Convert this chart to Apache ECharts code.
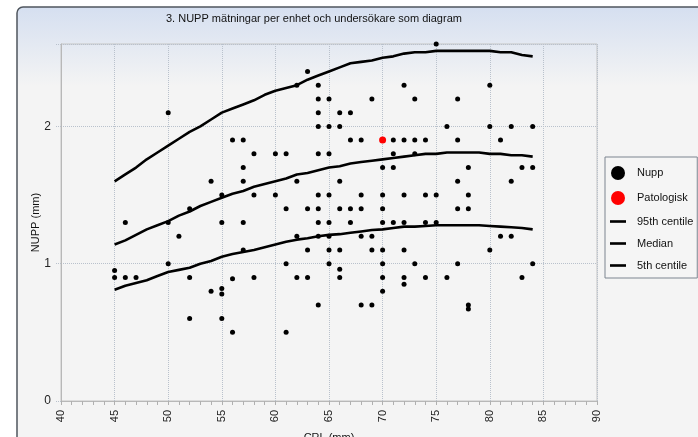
<!DOCTYPE html>
<html><head><meta charset="utf-8">
<script src="https://cdn.jsdelivr.net/npm/echarts@6/dist/echarts.min.js"></script>
<style>html,body{margin:0;padding:0;background:#fff}#c{width:698px;height:437px}</style>
</head><body><div id="c"></div>
<script>
// Measured points (CRL mm, NUPP mm)
const nuppX = [45,45,46,46,47,50,50,50,51,52,52,52,54,54,55,55,55,55,55,56,56,56,57,57,57,57,57,58,58,58,
  60,60,61,61,61,61,62,62,62,62,63,63,63,63,
  64,64,64,64,64,64,64,64,64,64,65,65,65,65,65,65,65,65,
  66,66,66,66,66,66,66,67,67,67,67,68,68,68,68,68,69,69,69,69,
  70,70,70,70,70,70,70,70,71,71,71,71,72,72,72,72,72,72,72,73,73,73,73,74,74,74,74,75,75,75,76,76,
  77,77,77,77,77,78,78,78,78,78,80,80,80,81,81,82,82,82,83,83,84,84,84];
const nuppY = [0.95,0.9,1.3,0.9,0.9,2.1,1.3,1.0,1.2,1.4,0.9,0.6,1.6,0.8,1.5,1.3,0.82,0.78,0.6,1.9,0.89,0.5,1.9,1.7,1.6,1.3,1.1,1.8,1.5,0.9,
  1.8,1.5,1.8,1.4,1.0,0.5,2.3,1.6,1.2,0.9,2.4,1.4,1.1,0.9,
  2.3,2.2,2.1,2.0,1.8,1.5,1.4,1.3,1.2,0.7,2.2,2.0,1.8,1.5,1.3,1.2,1.1,1.0,
  2.1,2.0,1.6,1.4,1.1,0.96,0.9,2.1,1.9,1.4,1.3,1.9,1.5,1.4,1.2,0.7,2.2,1.2,1.1,0.7,
  1.7,1.5,1.4,1.3,1.1,1.0,0.9,0.8,1.9,1.8,1.7,1.3,2.3,1.9,1.5,1.3,1.1,0.9,0.85,2.2,1.9,1.8,1.0,1.9,1.5,1.3,0.9,2.6,1.5,1.3,2.0,0.9,
  2.2,1.9,1.6,1.4,1.0,1.7,1.5,1.4,0.7,0.67,2.3,2.0,1.1,1.9,1.2,2.0,1.6,1.2,1.7,0.9,2.0,1.7,1.0];
const patX = [70];
const patY = [1.9];
// Reference centiles
const crl = [45,46,47,48,49,50,51,52,53,54,55,56,57,58,59,60,61,62,63,64,65,66,67,68,69,70,71,72,73,74,75,76,77,78,79,80,81,82,83,84];
const p95 = [1.60,1.65,1.70,1.76,1.81,1.86,1.91,1.96,2.00,2.05,2.10,2.13,2.16,2.19,2.23,2.26,2.28,2.30,2.34,2.37,2.40,2.43,2.46,2.47,2.48,2.50,2.51,2.53,2.54,2.54,2.55,2.55,2.55,2.55,2.55,2.55,2.54,2.54,2.52,2.51];
const p50 = [1.14,1.17,1.21,1.25,1.28,1.31,1.35,1.38,1.42,1.45,1.48,1.51,1.53,1.56,1.58,1.60,1.62,1.65,1.66,1.68,1.70,1.71,1.73,1.74,1.75,1.76,1.77,1.78,1.79,1.80,1.80,1.81,1.81,1.81,1.81,1.80,1.80,1.79,1.79,1.78];
const p5  = [0.81,0.84,0.86,0.88,0.91,0.94,0.955,0.97,1.00,1.02,1.05,1.07,1.085,1.10,1.12,1.14,1.16,1.175,1.185,1.20,1.21,1.215,1.225,1.235,1.245,1.25,1.26,1.27,1.27,1.275,1.28,1.28,1.28,1.28,1.28,1.275,1.27,1.265,1.26,1.25];
const xTicks = [40,45,50,55,60,65,70,75,80,85,90];
const yTicks = [0,1,2];

const font = 'Liberation Sans, Arial, sans-serif';
const pair = (xs, ys) => xs.map((x, i) => [x, ys[i]]);
const lineIcon = 'path://M0,0L14,0L14,2.3L0,2.3Z';
const chart = echarts.init(document.getElementById('c'), null, {renderer: 'canvas'});
chart.setOption({
  animation: false,
  backgroundColor: '#ffffff',
  graphic: [{
    type: 'rect', z: -10, silent: true,
    shape: {x: 17, y: 7, width: 720, height: 470, r: [6, 0, 0, 0]},
    style: {
      fill: new echarts.graphic.LinearGradient(0, 0, 0, 1, [
        {offset: 0, color: '#d5dff0'}, {offset: 0.17, color: '#f4f4f4'}, {offset: 1, color: '#f4f4f4'}]),
      stroke: '#4f565e', lineWidth: 1.5
    }
  }],
  title: {
    text: '3. NUPP mätningar per enhet och undersökare som diagram',
    left: 166, top: 13, padding: 0,
    textStyle: {fontFamily: font, fontSize: 11, fontWeight: 'normal', color: '#111'}
  },
  legend: {
    orient: 'vertical', left: 605, top: 157, padding: [9, 4, 7, 5],
    itemWidth: 16, itemHeight: 14, itemGap: 11, selectedMode: false,
    backgroundColor: '#f5f5f5', borderColor: '#7c8590', borderWidth: 1,
    textStyle: {fontFamily: font, fontSize: 11, color: '#111', padding: [0, 0, 0, 6]},
    data: [
      {name: 'Nupp', icon: 'circle', itemStyle: {opacity: 1}},
      {name: 'Patologisk', icon: 'circle', itemStyle: {opacity: 1}},
      {name: '95th centile', icon: lineIcon},
      {name: 'Median', icon: lineIcon},
      {name: '5th centile', icon: lineIcon}
    ]
  },
  grid: {left: 61, right: 101, top: 44, bottom: 36, outerBoundsMode: 'none', containLabel: false,
    show: true, borderColor: '#c4c4c4', borderWidth: 1, backgroundColor: 'transparent'},
  xAxis: {
    type: 'value', min: xTicks[0], max: xTicks[xTicks.length - 1], interval: 5,
    name: 'CRL (mm)', nameLocation: 'middle', nameGap: 31,
    nameTextStyle: {fontFamily: font, fontSize: 11, color: '#111'},
    axisLine: {lineStyle: {color: '#b8b8b8'}},
    axisTick: {show: true, length: 4, lineStyle: {color: '#b0b0b0'}},
    minorTick: {show: true, splitNumber: 5, length: 4, lineStyle: {color: '#b0b0b0'}},
    axisLabel: {rotate: 90, margin: 9, fontFamily: font, fontSize: 11, color: '#222',
      formatter: v => xTicks.includes(v) ? String(v) : ''},
    splitLine: {show: true, lineStyle: {type: 'dotted', color: '#b9c1cc'}}
  },
  yAxis: {
    type: 'value', min: 0, max: 2.6, interval: 1,
    name: 'NUPP (mm)', nameLocation: 'middle', nameGap: 20, nameMoveOverlap: false,
    nameTextStyle: {fontFamily: font, fontSize: 11, color: '#111'},
    axisLine: {show: true, lineStyle: {color: '#b8b8b8'}},
    axisTick: {show: true, length: 6, lineStyle: {type: 'dotted', color: '#b9c1cc'}},
    axisLabel: {margin: 10, fontFamily: font, fontSize: 12, color: '#222',
      formatter: v => yTicks.includes(v) ? String(v) : ''},
    splitLine: {show: true, lineStyle: {type: 'dotted', color: '#b9c1cc'}}
  },
  series: [
    {name: '95th centile', type: 'line', data: pair(crl, p95), showSymbol: false, z: 2,
      lineStyle: {color: '#000', width: 2.6}, itemStyle: {color: '#000'}},
    {name: 'Median', type: 'line', data: pair(crl, p50), showSymbol: false, z: 2,
      lineStyle: {color: '#000', width: 2.6}, itemStyle: {color: '#000'}},
    {name: '5th centile', type: 'line', data: pair(crl, p5), showSymbol: false, z: 2,
      lineStyle: {color: '#000', width: 2.6}, itemStyle: {color: '#000'}},
    {name: 'Nupp', type: 'scatter', data: pair(nuppX, nuppY), symbol: 'circle', symbolSize: 5, z: 3,
      itemStyle: {color: '#000', opacity: 1}},
    {name: 'Patologisk', type: 'scatter', data: pair(patX, patY), symbol: 'circle', symbolSize: 7, z: 4,
      itemStyle: {color: '#ff0000', opacity: 1}}
  ]
});
</script>
</body></html>
